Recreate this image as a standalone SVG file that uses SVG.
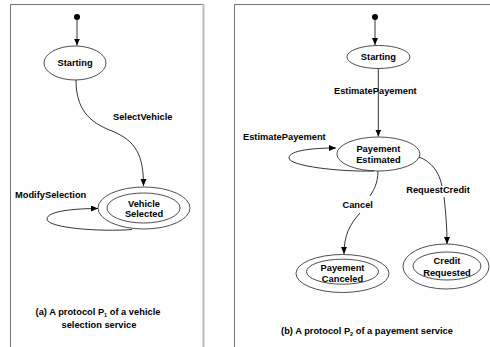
<svg xmlns="http://www.w3.org/2000/svg" width="490" height="347" viewBox="0 0 490 347">
<style>
text{font-family:"Liberation Sans",Arial,sans-serif;font-weight:bold;font-size:9.3px;fill:#000}
.c{text-anchor:middle}
.st{fill:none;stroke:#222;stroke-width:0.8}
.e{fill:none;stroke:#000;stroke-width:0.8}
.sub{font-size:5.5px}
</style>
<defs>
<marker id="ah" markerUnits="userSpaceOnUse" markerWidth="8" markerHeight="7" refX="7" refY="3" orient="auto">
<path d="M0,0 L7,3 L0,6 z" fill="#000"/>
</marker>
</defs>
<rect width="490" height="347" fill="#fff"/>
<g id="frames">
<path d="M10.5,347 V4.5 H203" fill="none" stroke="#777" stroke-width="1"/>
<path d="M203.5,4 V347" fill="none" stroke="#bbb" stroke-width="2"/>
<path d="M234.5,347 V4.5 H490" fill="none" stroke="#777" stroke-width="1"/>
</g>
<g id="connectors">
<path class="e" d="M77,20 L77,45.5" marker-end="url(#ah)"/>
<path class="e" d="M76,80 C76,108 88,122 112,131 C136,141 143.5,155 143.5,186" marker-end="url(#ah)"/>
<path class="e" d="M132,229.5 C100,232 47,228 47,219 C47,211 75,208.5 98,208.5" marker-end="url(#ah)"/>
<path class="e" d="M375,20 L375,45" marker-end="url(#ah)"/>
<path class="e" d="M378.3,68.5 L378.3,136.5" marker-end="url(#ah)"/>
<path class="e" d="M374,171 C340,172 289,166 289,158 C289,150 315,148 336,148" marker-end="url(#ah)"/>
<path class="e" d="M378,171 C378,184 373,191 370,196"/>
<path class="e" d="M360,213 C350,224 344,235 344,254" marker-end="url(#ah)"/>
<path class="e" d="M419,157 C432,162 439,172 442,186"/>
<path class="e" d="M444,197 C446,215 447,228 447,244" marker-end="url(#ah)"/>
</g>
<g id="init1"><circle cx="77" cy="17" r="3" fill="#000"/></g>
<g id="starting1">
<ellipse class="st" cx="75" cy="63" rx="31" ry="17"/>
<text class="c" x="75" y="66.3">Starting</text>
</g>
<g id="vehicleSelected">
<ellipse class="st" cx="144" cy="208" rx="46" ry="21"/>
<ellipse class="st" cx="143.5" cy="208" rx="36.5" ry="15"/>
<text class="c" x="144" y="206.6">Vehicle</text>
<text class="c" x="144" y="217.3">Selected</text>
</g>
<g id="labels1">
<text x="113" y="120.3">SelectVehicle</text>
<text x="15" y="198.3">ModifySelection</text>
<text class="c" x="98" y="315">(a) A  protocol P<tspan class="sub" dy="2">1</tspan><tspan dy="-2"> of a vehicle</tspan></text>
<text class="c" x="99" y="328.3">selection service</text>
</g>
<g id="init2"><circle cx="375" cy="17" r="3" fill="#000"/></g>
<g id="starting2">
<ellipse class="st" cx="378.4" cy="57" rx="31.5" ry="11.5"/>
<text class="c" x="378.4" y="60.3">Starting</text>
</g>
<g id="payementEstimated">
<ellipse class="st" cx="378.4" cy="154" rx="41.5" ry="17"/>
<text class="c" x="378.4" y="151.5">Payement</text>
<text class="c" x="378.4" y="163.3">Estimated</text>
</g>
<g id="payementCanceled">
<ellipse class="st" cx="342.5" cy="273.5" rx="46.5" ry="19"/>
<ellipse class="st" cx="342.5" cy="271.7" rx="36" ry="12.5"/>
<text class="c" x="342.5" y="271">Payement</text>
<text class="c" x="342.5" y="281.6">Canceled</text>
</g>
<g id="creditRequested">
<ellipse class="st" cx="446" cy="266.5" rx="43" ry="22.5"/>
<ellipse class="st" cx="447" cy="266" rx="34" ry="14"/>
<text class="c" x="447" y="264.3">Credit</text>
<text class="c" x="447" y="275.6">Requested</text>
</g>
<g id="labels2">
<text x="334" y="94">EstimatePayement</text>
<text x="243" y="140">EstimatePayement</text>
<text class="c" x="357.7" y="207.6">Cancel</text>
<text class="c" x="438" y="192.6">RequestCredit</text>
<text class="c" x="367" y="334">(b) A protocol P<tspan class="sub" dy="2">2</tspan><tspan dy="-2"> of a payement service</tspan></text>
</g>
</svg>
